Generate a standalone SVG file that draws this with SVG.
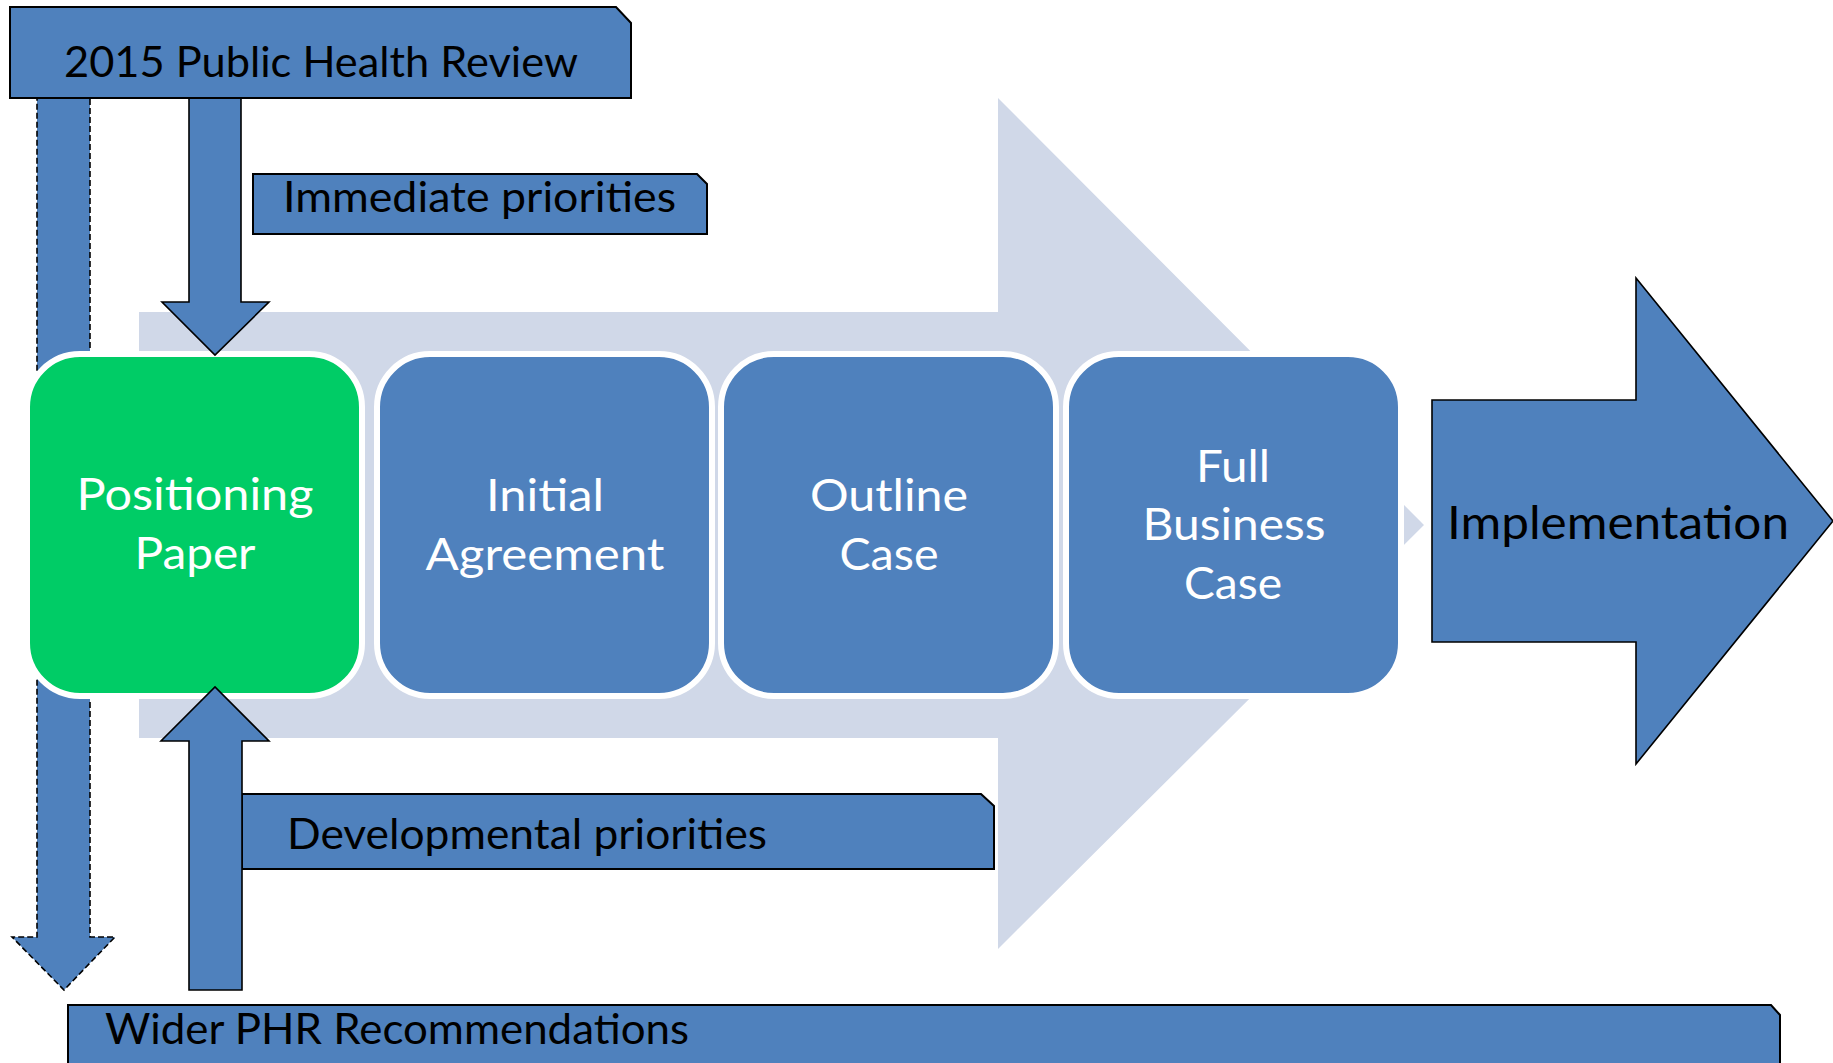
<svg xmlns="http://www.w3.org/2000/svg" width="1833" height="1063" viewBox="0 0 1833 1063">
<style>
.bar{fill:#4F81BD;stroke:#000;stroke-width:2;stroke-linejoin:miter}
.stage{stroke:#fff;stroke-width:6}
.blue{fill:#4F81BD}
.green{fill:#00CC66}
.arrow{fill:#4F81BD;stroke:#000;stroke-width:1.6;stroke-linejoin:miter}
.dashed{fill:#4F81BD;stroke:#000;stroke-width:1.6;stroke-dasharray:6 3}
.lbl{font-family:Lato,"Open Sans","Liberation Sans",sans-serif;font-size:42px;fill:#000}
.wlbl{font-family:Lato,"Open Sans","Liberation Sans",sans-serif;font-size:45px;fill:#fff;text-anchor:middle}
</style>
<rect width="1833" height="1063" fill="#fff"/>
<g id="process-band">
<polygon points="139,312 998,312 998,98 1424,525 998,949 998,738 139,738" fill="#D0D8E8"/>
</g>
<g id="connectors">
<polygon class="dashed" points="37,98 90,98 90,937 115,937 64,990 12,937 37,937"/>
</g>
<g id="positioning-paper">
<rect class="stage green" x="27" y="354" width="335" height="342" rx="53" ry="53"/>
<text class="wlbl" x="195" y="510" textLength="237" lengthAdjust="spacingAndGlyphs">Positioning</text>
<text class="wlbl" x="195" y="569" textLength="121" lengthAdjust="spacingAndGlyphs">Paper</text>
</g>
<g id="initial-agreement">
<rect class="stage blue" x="377" y="354" width="335" height="342" rx="53" ry="53"/>
<text class="wlbl" x="545" y="511" textLength="118" lengthAdjust="spacingAndGlyphs">Initial</text>
<text class="wlbl" x="545" y="570" textLength="239" lengthAdjust="spacingAndGlyphs">Agreement</text>
</g>
<g id="outline-case">
<rect class="stage blue" x="721" y="354" width="335" height="342" rx="53" ry="53"/>
<text class="wlbl" x="889" y="511" textLength="158" lengthAdjust="spacingAndGlyphs">Outline</text>
<text class="wlbl" x="889" y="570" textLength="99" lengthAdjust="spacingAndGlyphs">Case</text>
</g>
<g id="full-business-case">
<rect class="stage blue" x="1066" y="354" width="335" height="342" rx="53" ry="53"/>
<text class="wlbl" x="1233" y="482" textLength="74" lengthAdjust="spacingAndGlyphs">Full</text>
<text class="wlbl" x="1234" y="540" textLength="183" lengthAdjust="spacingAndGlyphs">Business</text>
<text class="wlbl" x="1233" y="599" textLength="98" lengthAdjust="spacingAndGlyphs">Case</text>
</g>
<g id="connectors-main">
<polygon class="arrow" points="189,98 241,98 241,302 269,302 215,355 162,302 189,302"/>
</g>
<g id="developmental-priorities">
<polygon class="bar" points="242,794 981,794 994,806 994,869 242,869"/>
<text class="lbl" x="287" y="849" textLength="480" lengthAdjust="spacingAndGlyphs">Developmental priorities</text>
</g>
<g id="connectors-up">
<polygon class="arrow" points="189,990 242,990 242,741 269,741 215,687 161,741 189,741"/>
</g>
<g id="public-health-review">
<polygon class="bar" points="10,7 616,7 631,23 631,98 10,98"/>
<text class="lbl" x="64" y="77" textLength="514" lengthAdjust="spacingAndGlyphs">2015 Public Health Review</text>
</g>
<g id="immediate-priorities">
<polygon class="bar" points="253,174 697,174 707,184 707,234 253,234"/>
<text class="lbl" x="283" y="212" textLength="393" lengthAdjust="spacingAndGlyphs">Immediate priorities</text>
</g>
<g id="wider-phr">
<polygon class="bar" points="68,1005 1771,1005 1780,1015 1780,1075 68,1075"/>
<text class="lbl" x="105" y="1044" textLength="584" lengthAdjust="spacingAndGlyphs">Wider PHR Recommendations</text>
</g>
<g id="implementation">
<polygon class="arrow" points="1432,400 1636,400 1636,278 1833,521 1636,764 1636,642 1432,642"/>
<text x="1447" y="539" font-family="Lato,'Open Sans','Liberation Sans',sans-serif" font-size="46" fill="#000" textLength="342" lengthAdjust="spacingAndGlyphs">Implementation</text>
</g>
</svg>
